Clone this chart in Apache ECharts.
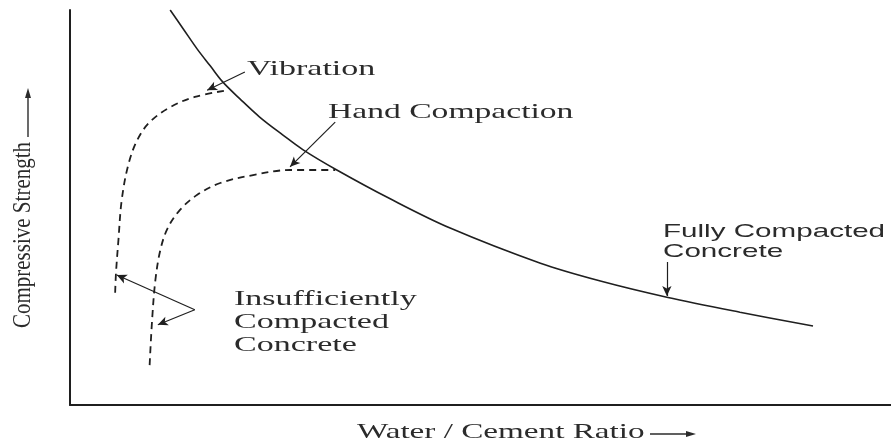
<!DOCTYPE html>
<html>
<head>
<meta charset="utf-8">
<title>Compressive Strength vs Water / Cement Ratio</title>
<script src="https://cdn.jsdelivr.net/npm/echarts@6/dist/echarts.min.js"></script>
<style>
  html, body { margin: 0; padding: 0; background: #fff; }
  #chart { width: 891px; height: 445px; }
</style>
</head>
<body>
<div id="chart"></div>
<script>
// curves (x = w/c ratio, y = strength, both in 0-100 plot units)
var fullyCompacted = [
    [12.2, 100], [13.8, 95.2], [15.5, 90.1], [17.1, 85.8], [18.6, 81.8], [20.7, 77.5],
    [23.1, 72.9], [25.9, 68.4], [28.4, 64.6], [32.5, 59.5], [39.0, 52.2], [46.3, 44.8],
    [57.3, 35.9], [64.6, 31.4], [72.7, 27.3], [81.6, 23.5], [90.5, 20.0]
];
var vibration = [
    [5.5, 28.4], [5.6, 33.4], [5.9, 41.8], [6.3, 51.9], [7.1, 60.8], [8.2, 67.1],
    [9.7, 71.6], [12.2, 75.4], [15.2, 78.0], [19.2, 79.7]
];
var handCompaction = [
    [9.7, 10.1], [10.0, 21.5], [10.4, 31.6], [11.0, 39.2], [11.9, 44.8], [13.4, 49.4],
    [15.5, 53.2], [18.3, 56.2], [22.3, 58.2], [26.8, 59.5], [32.3, 59.5]
];
// annotation arrows: [from, to]
var pointerArrows = [
    [[21.3, 84.3], [16.7, 79.7]],   // Vibration
    [[32.3, 71.6], [26.8, 60.3]],   // Hand Compaction
    [[72.7, 36.2], [72.7, 27.6]],   // Fully Compacted Concrete
    [[15.2, 24.1], [5.7, 32.9]],    // Insufficiently ... (left)
    [[15.2, 24.1], [10.7, 20.3]]    // Insufficiently ... (right)
];

var ink = '#1f1f1f';
var textInk = '#2b2b2b';
var serif = '"Liberation Serif", "DejaVu Serif", serif';
var sans = '"Liberation Sans", Arial, sans-serif';

var chart = echarts.init(document.getElementById('chart'));

function curve(data, dashed) {
    return {
        type: 'line',
        data: data,
        smooth: 0.35,
        symbol: 'none',
        silent: true,
        animation: false,
        lineStyle: {
            color: ink,
            width: dashed ? 1.8 : 1.6,
            type: dashed ? [7, 5] : 'solid'
        }
    };
}

var arrowLines = [];
for (var i = 0; i < pointerArrows.length; i++) {
    arrowLines.push([{ coord: pointerArrows[i][0] }, { coord: pointerArrows[i][1] }]);
}

// scanned text is wider than the font, stretch it sideways
function label(txt, x, y, font, sx) {
    return {
        type: 'text',
        x: x,
        y: y,
        scaleX: sx,
        silent: true,
        style: {
            text: txt,
            font: font,
            fill: textInk,
            align: 'left',
            verticalAlign: 'middle'
        }
    };
}

var option = {
    backgroundColor: '#ffffff',
    animation: false,
    grid: { left: 70, right: 0, top: 10, bottom: 40 },
    xAxis: {
        type: 'value',
        min: 0,
        max: 100,
        axisLine: { show: true, lineStyle: { color: ink, width: 2 } },
        axisTick: { show: false },
        axisLabel: { show: false },
        splitLine: { show: false }
    },
    yAxis: {
        type: 'value',
        min: 0,
        max: 100,
        axisLine: { show: true, lineStyle: { color: ink, width: 2 } },
        axisTick: { show: false },
        axisLabel: { show: false },
        splitLine: { show: false }
    },
    series: [
        curve(fullyCompacted, false),
        curve(vibration, true),
        curve(handCompaction, true),
        {
            type: 'line',
            data: [],
            silent: true,
            markLine: {
                silent: true,
                animation: false,
                symbol: ['none', 'arrow'],
                symbolSize: [7, 10],
                label: { show: false },
                lineStyle: { color: ink, width: 1.2, type: 'solid' },
                data: arrowLines
            }
        }
    ],
    graphic: [
        label('Vibration', 247, 69, '21px ' + serif, 1.62),
        label('Hand Compaction', 328, 112, '21px ' + serif, 1.6),
        label('Fully Compacted', 663, 232, '18.5px ' + sans, 1.6),
        label('Concrete', 663, 252, '18.5px ' + sans, 1.6),
        label('Insufficiently', 234, 299, '21px ' + serif, 1.62),
        label('Compacted', 234, 322, '21px ' + serif, 1.62),
        label('Concrete', 234, 345, '21px ' + serif, 1.62),
        label('Water / Cement Ratio', 357, 432, '21px ' + serif, 1.58),
        {
            type: 'text',
            x: 36,
            y: 235,
            rotation: Math.PI / 2,
            scaleY: 1.15,
            silent: true,
            style: {
                text: 'Compressive Strength',
                font: '21px ' + serif,
                fill: textInk,
                align: 'center',
                verticalAlign: 'bottom'
            }
        },
        // axis name arrows
        { type: 'line', silent: true, shape: { x1: 28, y1: 137, x2: 28, y2: 95 }, style: { stroke: textInk, lineWidth: 1.4 } },
        { type: 'polygon', silent: true, shape: { points: [[28, 88], [25, 98], [31, 98]] }, style: { fill: textInk } },
        { type: 'line', silent: true, shape: { x1: 650, y1: 434, x2: 688, y2: 434 }, style: { stroke: textInk, lineWidth: 1.4 } },
        { type: 'polygon', silent: true, shape: { points: [[696, 434], [686, 431], [686, 437]] }, style: { fill: textInk } }
    ]
};

chart.setOption(option);
</script>
</body>
</html>
